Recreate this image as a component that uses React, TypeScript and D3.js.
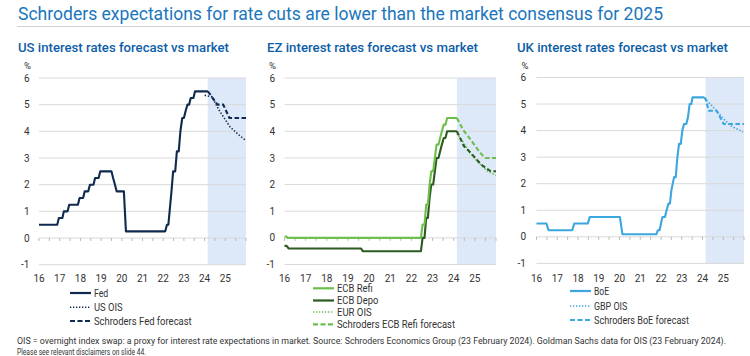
import React from "react";
import * as d3 from "d3";

type Pt = [number, number];

const chartTitle = "Schroders expectations for rate cuts are lower than the market consensus for 2025";
const yearTicks = [2016, 2017, 2018, 2019, 2020, 2021, 2022, 2023, 2024, 2025];
const yearLabels = ["16", "17", "18", "19", "20", "21", "22", "23", "24", "25"];
const yTickValues = [-1, 0, 1, 2, 3, 4, 5, 6];
const forecastStart = 2024.15;
const footnote1 =
  "OIS = overnight index swap: a proxy for interest rate expectations in market. Source: Schroders Economics Group (23 February 2024). Goldman Sachs data for OIS (23 February 2024).";
const footnote2 = "Please see relevant disclaimers on slide 44.";

// ---- US ----
const fedRate: Pt[] = [
  [2016.0, 0.5], [2016.88, 0.5], [2016.96, 0.75], [2017.13, 0.75], [2017.2, 1.0], [2017.38, 1.0],
  [2017.46, 1.25], [2017.88, 1.25], [2017.96, 1.5], [2018.13, 1.5], [2018.21, 1.75], [2018.38, 1.75],
  [2018.46, 2.0], [2018.63, 2.0], [2018.71, 2.25], [2018.88, 2.25], [2018.96, 2.5], [2019.5, 2.5],
  [2019.58, 2.25], [2019.67, 2.0], [2019.75, 1.75], [2020.1, 1.75], [2020.2, 0.25], [2022.1, 0.25],
  [2022.18, 0.5], [2022.25, 0.5], [2022.31, 1.0], [2022.4, 1.75], [2022.48, 2.5], [2022.58, 2.5],
  [2022.66, 3.25], [2022.75, 3.25], [2022.83, 4.0], [2022.92, 4.5], [2023.0, 4.5], [2023.08, 4.75],
  [2023.17, 5.0], [2023.25, 5.0], [2023.33, 5.25], [2023.46, 5.25], [2023.54, 5.5], [2024.16, 5.5],
];
const usOis: Pt[] = [
  [2024.0, 5.35], [2024.35, 5.3], [2024.74, 4.74], [2025.23, 4.17], [2025.6, 3.9], [2026.0, 3.65],
];
const fedForecast: Pt[] = [
  [2024.16, 5.5], [2024.62, 5.0], [2024.9, 5.0], [2025.2, 4.5], [2026.0, 4.5],
];

// ---- EZ ----
const ecbRefi: Pt[] = [
  [2016.0, 0.05], [2016.08, 0.05], [2016.15, 0.0], [2022.45, 0.0], [2022.53, 0.5], [2022.62, 0.5],
  [2022.7, 1.25], [2022.78, 1.25], [2022.86, 2.0], [2022.94, 2.5], [2023.03, 2.5], [2023.11, 3.0],
  [2023.19, 3.5], [2023.28, 3.5], [2023.36, 3.75], [2023.44, 4.0], [2023.53, 4.25], [2023.61, 4.25],
  [2023.69, 4.5], [2024.15, 4.5],
];
const ecbDepo: Pt[] = [
  [2016.0, -0.3], [2016.1, -0.3], [2016.2, -0.4], [2019.62, -0.4], [2019.7, -0.5], [2022.45, -0.5],
  [2022.53, 0.0], [2022.62, 0.0], [2022.7, 0.75], [2022.78, 0.75], [2022.86, 1.5], [2022.94, 2.0],
  [2023.03, 2.0], [2023.11, 2.5], [2023.19, 3.0], [2023.28, 3.0], [2023.36, 3.25], [2023.44, 3.5],
  [2023.53, 3.75], [2023.61, 3.75], [2023.69, 4.0], [2024.15, 4.0],
];
const eurOis: Pt[] = [
  [2024.15, 3.92], [2024.45, 3.6], [2024.75, 3.2], [2025.2, 2.8], [2025.6, 2.5], [2026.0, 2.35],
];
const ecbRefiForecast: Pt[] = [
  [2024.15, 4.5], [2024.45, 4.05], [2024.77, 3.72], [2025.24, 3.2], [2025.5, 3.0], [2026.0, 3.0],
];
const ecbDepoForecast: Pt[] = [
  [2024.15, 4.0], [2024.48, 3.45], [2024.85, 3.15], [2025.3, 2.75], [2025.75, 2.5], [2026.0, 2.5],
];

// ---- UK ----
const boeRate: Pt[] = [
  [2016.0, 0.5], [2016.48, 0.5], [2016.58, 0.25], [2017.72, 0.25], [2017.82, 0.5], [2018.47, 0.5],
  [2018.57, 0.75], [2020.02, 0.75], [2020.14, 0.1], [2021.78, 0.1], [2021.85, 0.25], [2021.93, 0.25],
  [2022.0, 0.5], [2022.07, 0.75], [2022.19, 0.75], [2022.27, 1.0], [2022.36, 1.25], [2022.43, 1.25],
  [2022.5, 1.75], [2022.63, 2.25], [2022.71, 2.25], [2022.79, 3.0], [2022.87, 3.5], [2022.95, 3.5],
  [2023.03, 4.0], [2023.11, 4.25], [2023.22, 4.25], [2023.3, 4.5], [2023.38, 5.0], [2023.46, 5.0],
  [2023.52, 5.25], [2024.08, 5.25],
];
const gbpOis: Pt[] = [
  [2024.08, 5.22], [2024.48, 4.92], [2024.96, 4.49], [2025.36, 4.18], [2025.95, 3.95],
];
const boeForecast: Pt[] = [
  [2024.08, 5.25], [2024.15, 5.2], [2024.3, 4.75], [2024.68, 4.75], [2025.02, 4.25], [2026.0, 4.25],
];

const FED = "#0f2a4e";
const REFI = "#6cbf4a";
const DEPO = "#2c5a20";
const BOE = "#3ba6df";

type Style = "solid" | "dotted" | "dashed";
interface SeriesDef { data: Pt[]; color: string; style: Style; }
interface LegendDef { label: string; color: string; style: Style; y: number; w: number; }
interface PanelDef {
  title: string; titleX: number;
  xr: [number, number]; yr: [number, number];
  labelRight: number; pctX: number;
  legendX: number;
  series: SeriesDef[];
  legend: LegendDef[];
}

const dash = (s: Style) => (s === "dotted" ? "1.4 1.8" : s === "dashed" ? "4.5 2.5" : undefined);
const sw = (s: Style) => (s === "dotted" ? 1.6 : 2.1);

const panels: PanelDef[] = [
  {
    title: "US interest rates forecast vs market", titleX: 18,
    xr: [39, 246], yr: [264.7, 78], labelRight: 29.5, pctX: 27.5, legendX: 70,
    series: [
      { data: usOis, color: FED, style: "dotted" },
      { data: fedForecast, color: FED, style: "dashed" },
      { data: fedRate, color: FED, style: "solid" },
    ],
    legend: [
      { label: "Fed", color: FED, style: "solid", y: 293, w: 14.3 },
      { label: "US OIS", color: FED, style: "dotted", y: 307.3, w: 28.7 },
      { label: "Schroders Fed forecast", color: FED, style: "dashed", y: 321, w: 97.7 },
    ],
  },
  {
    title: "EZ interest rates forecast vs market", titleX: 267,
    xr: [284.5, 496], yr: [264.5, 78], labelRight: 275, pctX: 272.5, legendX: 313,
    series: [
      { data: eurOis, color: REFI, style: "dotted" },
      { data: ecbDepoForecast, color: DEPO, style: "dashed" },
      { data: ecbRefiForecast, color: REFI, style: "dashed" },
      { data: ecbDepo, color: DEPO, style: "solid" },
      { data: ecbRefi, color: REFI, style: "solid" },
    ],
    legend: [
      { label: "ECB Refi", color: REFI, style: "solid", y: 288.3, w: 35.7 },
      { label: "ECB Depo", color: DEPO, style: "solid", y: 300.5, w: 41.3 },
      { label: "EUR OIS", color: REFI, style: "dotted", y: 312, w: 34.7 },
      { label: "Schroders ECB Refi forecast", color: REFI, style: "dashed", y: 324.3, w: 118 },
    ],
  },
  {
    title: "UK interest rates forecast vs market", titleX: 517,
    xr: [536.5, 744], yr: [263.4, 77.5], labelRight: 526, pctX: 525, legendX: 570,
    series: [
      { data: gbpOis, color: BOE, style: "dotted" },
      { data: boeForecast, color: BOE, style: "dashed" },
      { data: boeRate, color: BOE, style: "solid" },
    ],
    legend: [
      { label: "BoE", color: BOE, style: "solid", y: 291, w: 15 },
      { label: "GBP OIS", color: BOE, style: "dotted", y: 306, w: 33.3 },
      { label: "Schroders BoE forecast", color: BOE, style: "dashed", y: 320, w: 95 },
    ],
  },
];

function Panel({ p }: { p: PanelDef }) {
  const x = d3.scaleLinear().domain([2016, 2026]).range(p.xr);
  const y = d3.scaleLinear().domain([-1, 6]).range(p.yr);
  const line = d3.line<Pt>().x((d) => x(d[0])).y((d) => y(d[1]));
  const halfYears = d3.range(2016, 2026.01, 0.5);
  return (
    <g>
      <text x={p.titleX} y={51.5} fontSize={13.5} fontWeight={500} fill="#0d5ea8"
        textLength={211} lengthAdjust="spacingAndGlyphs">{p.title}</text>
      <rect x={x(forecastStart)} y={y(6)} width={x(2026) - x(forecastStart)} height={y(-1) - y(6)} fill="#dde9f8" />
      {yTickValues.map((v) => (
        <line key={v} x1={x(2016)} x2={x(2026)} y1={y(v)} y2={y(v)} stroke="#d9d9d9" strokeWidth={1} />
      ))}
      {halfYears.map((t) => (
        <line key={t} x1={x(t)} x2={x(t)} y1={y(0)} y2={y(0) + 3} stroke="#b8b8b8" strokeWidth={1} />
      ))}
      {yTickValues.map((v) => (
        <text key={v} x={p.labelRight} y={y(v) + 3.6} fontSize={10} textAnchor="end" fill="#333">{v}</text>
      ))}
      <text x={p.pctX} y={68.5} fontSize={9.5} textAnchor="middle" fill="#333">%</text>
      {yearTicks.map((t, i) => (
        <text key={t} x={x(t)} y={281.5} fontSize={10} textAnchor="middle" fill="#333">{yearLabels[i]}</text>
      ))}
      {p.series.map((s, i) => (
        <path key={i} d={line(s.data) || ""} fill="none" stroke={s.color} strokeWidth={sw(s.style)}
          strokeDasharray={dash(s.style)} strokeLinejoin="round" />
      ))}
      {p.legend.map((l) => (
        <g key={l.label}>
          <line x1={p.legendX} x2={p.legendX + 21} y1={l.y} y2={l.y} stroke={l.color}
            strokeWidth={l.style === "dotted" ? 1.5 : 2.2} strokeDasharray={l.style === "dotted" ? "1.3 1.7" : l.style === "dashed" ? "5 2.5" : undefined} />
          <text x={p.legendX + 24} y={l.y + 3.6} fontSize={10} fill="#333" textLength={l.w}
            lengthAdjust="spacingAndGlyphs">{l.label}</text>
        </g>
      ))}
    </g>
  );
}

export default function App() {
  return (
    <svg width={750} height={356} style={{ position: "absolute", left: 0, top: 0, background: "#fff" }}
      fontFamily="Roboto, sans-serif">
      <text x={18} y={20} fontSize={17.5} fill="#1a76bd" textLength={645} lengthAdjust="spacingAndGlyphs">
        {chartTitle}
      </text>
      <line x1={17} x2={750} y1={26.5} y2={26.5} stroke="#d3d3d3" strokeWidth={1} />
      {panels.map((p) => (
        <Panel key={p.title} p={p} />
      ))}
      <text x={17} y={343.5} fontSize={8.6} fill="#333" textLength={709} lengthAdjust="spacingAndGlyphs">{footnote1}</text>
      <text x={17} y={354.5} fontSize={8.6} fill="#333" textLength={129} lengthAdjust="spacingAndGlyphs">{footnote2}</text>
    </svg>
  );
}
